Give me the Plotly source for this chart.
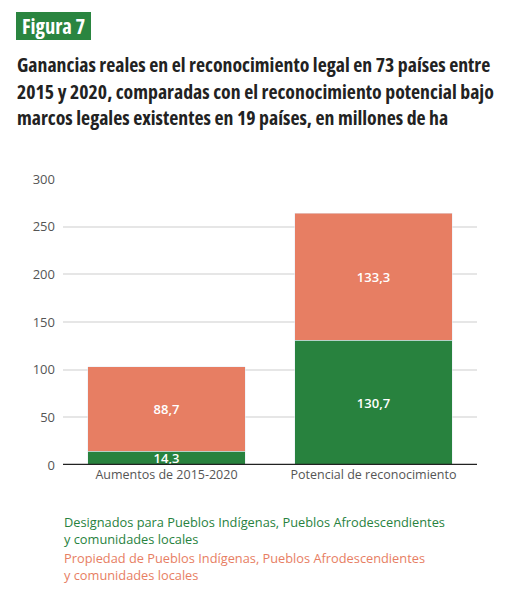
import plotly.graph_objects as go

categories = ["Aumentos de 2015-2020", "Potencial de reconocimiento"]
designados = [14.3, 130.7]
propiedad = [88.7, 133.3]
series_names = [
    "Designados para Pueblos Indígenas, Pueblos Afrodescendientes<br>y comunidades locales",
    "Propiedad de Pueblos Indígenas, Pueblos Afrodescendientes<br>y comunidades locales",
]
y_ticks = [0, 50, 100, 150, 200, 250, 300]

GREEN = "#28823e"
ORANGE = "#e77e63"

OFF = 8  # page body margin
W, H = 511 - OFF, 596 - OFF
L, R, T, B = 63 - OFF, 477 - OFF, 179 - OFF, 465 - OFF

def px(x):
    return (x - OFF - L) / (R - L)

def py(y):
    return (B - (y - OFF)) / (B - T)

fig = go.Figure()
for vals, col, name in zip([designados, propiedad], [GREEN, ORANGE], series_names):
    fig.add_trace(go.Bar(x=categories, y=vals, marker_color=col, name=name,
                         texttemplate="%{y:.1f}", textposition="inside", insidetextanchor="middle",
                         textfont=dict(color="white", size=13, family="Open Sans", weight=600),
                         showlegend=False))

annotations = []
title_lines = [
    "Ganancias reales en el reconocimiento legal en 73 países entre",
    "2015 y 2020, comparadas con el reconocimiento potencial bajo",
    "marcos legales existentes en 19 países, en millones de ha",
]
COND = '<span style="font-stretch:75%">'
for i, line in enumerate(title_lines):
    annotations.append(dict(text=COND + "<b>" + line + "</b></span>", xref="paper", yref="paper",
                            x=px(15), y=py(64 + i * 27), xanchor="left", yanchor="middle",
                            showarrow=False,
                            font=dict(family="Open Sans", size=19.8, color="#222222")))
annotations.append(dict(text=COND + "<b>Figura 7</b></span>", xref="paper", yref="paper",
                        x=px(53.5), y=py(26), xanchor="center", yanchor="middle", showarrow=False,
                        font=dict(family="Open Sans", size=20.5, color="white")))
legend_y = [530, 566]
for name, col, yy in zip(series_names, [GREEN, ORANGE], legend_y):
    annotations.append(dict(text=name, xref="paper", yref="paper", x=px(62), y=py(yy),
                            xanchor="left", yanchor="middle", align="left", showarrow=False,
                            font=dict(family="Open Sans", size=12.8, color=col)))

shapes = [
    dict(type="rect", xref="paper", yref="paper", x0=px(16), x1=px(91), y0=py(12), y1=py(40),
         fillcolor="#2a8540", line=dict(width=0), layer="below"),
    dict(type="line", xref="paper", yref="y", x0=0, x1=1, y0=0, y1=0,
         line=dict(color="#222222", width=2.5)),
]

fig.update_layout(
    width=W, height=H,
    margin=dict(l=L, r=W - R, t=T, b=H - B, pad=0),
    barmode="stack", bargap=0.24,
    separators=",.",
    uniformtext=dict(minsize=13, mode="show"),
    plot_bgcolor="white", paper_bgcolor="white",
    font=dict(family="Open Sans", size=12, color="#555555"),
    annotations=annotations, shapes=shapes,
    xaxis=dict(showgrid=False, showline=False, ticks="", tickfont=dict(size=12.5, color="#555555")),
    yaxis=dict(range=[0, 300], tickvals=y_ticks, showgrid=True, gridcolor="#e6e6e6", gridwidth=1.5,
               zeroline=False, showline=False, ticks="", ticklabelstandoff=7,
               tickfont=dict(size=13, color="#555555")),
)
fig.write_html("out.html")
